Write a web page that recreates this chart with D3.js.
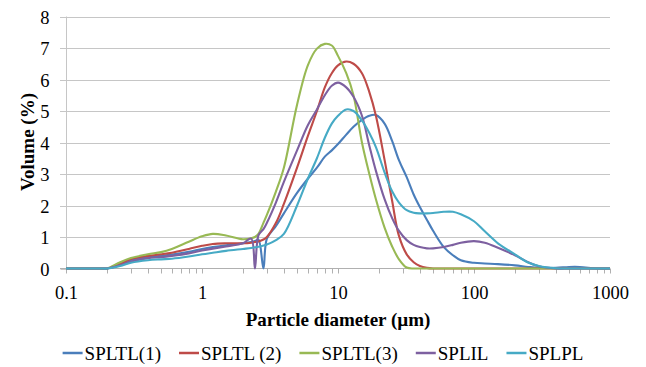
<!DOCTYPE html>
<html><head><meta charset="utf-8">
<script src="https://cdn.jsdelivr.net/npm/d3@7"></script>
<style>body{margin:0;background:#fff}svg{display:block}</style>
</head><body><svg id="c" width="646" height="367"></svg>
<script>
const diameters = [0.1,0.15,0.18,0.2,0.25,0.3,0.4,0.5,0.6,0.8,1.0,1.2,1.5,2.0,2.3,2.45,2.6,2.83,3.0,3.5,4.0,5.0,6.0,7.0,8.0,9.0,10,11.5,13,15,17,19,22,25,28,32,36,40,45,50,60,70,80,100,120,150,200,250,300,400,500,600,800,1000];
const splTL1 = [0,0,0,0,0.12,0.27,0.36,0.4,0.44,0.53,0.62,0.68,0.74,0.8,0.84,0.87,0.92,0,0.95,1.35,1.75,2.4,2.85,3.2,3.55,3.75,3.95,4.25,4.5,4.72,4.85,4.87,4.6,4.05,3.45,2.9,2.35,1.95,1.55,1.2,0.68,0.42,0.26,0.18,0.16,0.14,0.1,0.05,0.02,0.02,0.05,0.05,0,0];
const splTL2 = [0,0,0,0,0.15,0.3,0.4,0.45,0.5,0.62,0.72,0.78,0.8,0.8,0.82,0.84,0.86,0.92,1.0,1.45,2.05,3.2,4.2,5.0,5.75,6.2,6.45,6.57,6.5,6.2,5.6,4.85,3.45,2.15,1.05,0.45,0.2,0.08,0.02,0,0,0,0,0,0,0,0,0,0,0,0,0,0,0];
const splTL3 = [0,0,0,0,0.2,0.33,0.45,0.52,0.62,0.85,1.02,1.1,1.05,0.93,0.96,1.0,1.1,1.45,1.7,2.45,3.2,5.2,6.45,6.98,7.13,7.08,6.75,6.2,5.5,4.0,3.0,2.2,1.3,0.7,0.3,0.03,0,0,0,0,0,0,0,0,0,0,0,0,0,0,0,0,0,0];
const splIL = [0,0,0,0,0.1,0.22,0.33,0.36,0.4,0.48,0.57,0.63,0.7,0.8,0.95,0,1.05,1.25,1.45,2.1,2.75,3.75,4.55,5.05,5.5,5.8,5.9,5.75,5.45,4.85,3.9,3.1,2.2,1.6,1.2,0.9,0.75,0.68,0.64,0.64,0.68,0.75,0.82,0.87,0.82,0.66,0.42,0.2,0.07,0,0,0,0,0];
const splPL = [0,0,0,0,0.08,0.18,0.26,0.29,0.31,0.38,0.45,0.5,0.56,0.62,0.65,0.67,0.69,0.73,0.76,0.9,1.1,2.0,2.85,3.5,4.15,4.6,4.85,5.05,5.0,4.7,4.3,3.85,3.05,2.45,2.1,1.85,1.77,1.75,1.75,1.76,1.8,1.8,1.72,1.5,1.18,0.8,0.45,0.19,0.08,0.01,0,0,0,0];
const seriesNames = ["SPLTL(1)","SPLTL (2)","SPLTL(3)","SPLIL","SPLPL"];
const seriesValues = [splTL1, splTL2, splTL3, splIL, splPL];
const colors = ["#4A7EBB","#BE4B48","#98B954","#7D60A0","#46AAC5"];
const xTickLabels = [0.1,1,10,100,1000];
const yTickLabels = [0,1,2,3,4,5,6,7,8];
const xTitle = "Particle diameter (µm)";
const yTitle = "Volume (%)";

const FONT = '"Liberation Serif","Times New Roman",Times,serif';
const svg = d3.select("#c");
const x = d3.scaleLog().domain([0.1,1000]).range([66,610]);
const y = d3.scaleLinear().domain([0,8]).range([268.5,16.5]);

// gridlines
svg.append("g").selectAll("line").data(yTickLabels.filter(v=>v>0)).join("line")
  .attr("x1",60).attr("x2",610).attr("y1",d=>Math.round(y(d))+0.5).attr("y2",d=>Math.round(y(d))+0.5)
  .attr("stroke","#c6c6c6").attr("stroke-width",1);

// y axis
const yAxis = svg.append("g").attr("transform","translate(66.5,0)")
  .call(d3.axisLeft(y).tickValues(yTickLabels).tickSize(6).tickPadding(11).tickFormat(d3.format("d")));
yAxis.attr("font-family",null);
yAxis.select(".domain").attr("stroke","#c6c6c6").attr("d","M0,16.5V268.5");
yAxis.selectAll(".tick line").attr("stroke","#c6c6c6");
yAxis.selectAll(".tick").attr("transform",d=>"translate(0,"+(Math.round(y(d))+0.5)+")");
yAxis.selectAll("text").style("font-family",FONT).attr("font-size",18.5).attr("fill","#000").attr("dy","0.34em");

// x axis with minor ticks
const minor = [];
[0.1,1,10,100].forEach(b=>{for(let k=1;k<=9;k++) minor.push(+(b*k).toPrecision(3));});
minor.push(1000);
const xAxis = svg.append("g").attr("transform","translate(0,268.5)")
  .call(d3.axisBottom(x).tickValues(minor).tickSize(5).tickPadding(0)
    .tickFormat(d=>xTickLabels.includes(d)?String(d):""));
xAxis.attr("font-family",null);
xAxis.select(".domain").attr("stroke","#b0b0b0").attr("d","M60,0H610");
xAxis.selectAll(".tick line").attr("stroke","#b0b0b0");
xAxis.selectAll(".tick").attr("transform",d=>"translate("+(Math.round(x(d))+0.5)+",0)");
xAxis.selectAll("text").style("font-family",FONT).attr("font-size",18.5).attr("fill","#000")
  .attr("dy",null).attr("y",30.5);

// series
const line = d3.line().x(d=>x(d[0])).y(d=>y(d[1])).curve(d3.curveCatmullRom.alpha(0.5));
seriesValues.forEach((vals,i)=>{
  svg.append("path").datum(diameters.map((d,j)=>[d,vals[j]]))
    .attr("d",line).attr("fill","none").attr("stroke",colors[i]).attr("stroke-width",2.1)
    .attr("stroke-linejoin","round");
});

// titles
svg.append("text").attr("x",338).attr("y",326).attr("text-anchor","middle")
  .style("font-family",FONT).attr("font-weight","bold").attr("font-size",19).text(xTitle);
svg.append("text").attr("transform","translate(34,142) rotate(-90)").attr("text-anchor","middle")
  .style("font-family",FONT).attr("font-weight","bold").attr("font-size",19).text(yTitle);

// legend
const lg = svg.append("g");
let cx = 0;
seriesNames.forEach((n,i)=>{
  const g = lg.append("g");
  g.append("line").attr("x1",0).attr("x2",20).attr("y1",0).attr("y2",0).attr("stroke",colors[i]).attr("stroke-width",2.5);
  const t = g.append("text").attr("x",22).attr("y",6.5).style("font-family",FONT).attr("font-size",19).attr("fill","#000").text(n);
  const w = 22 + t.node().getComputedTextLength();
  g.attr("transform","translate("+cx+",0)");
  cx += w + 18;
});
const total = cx - 18;
lg.attr("transform","translate("+(323-total/2)+",353)");
</script></body></html>
